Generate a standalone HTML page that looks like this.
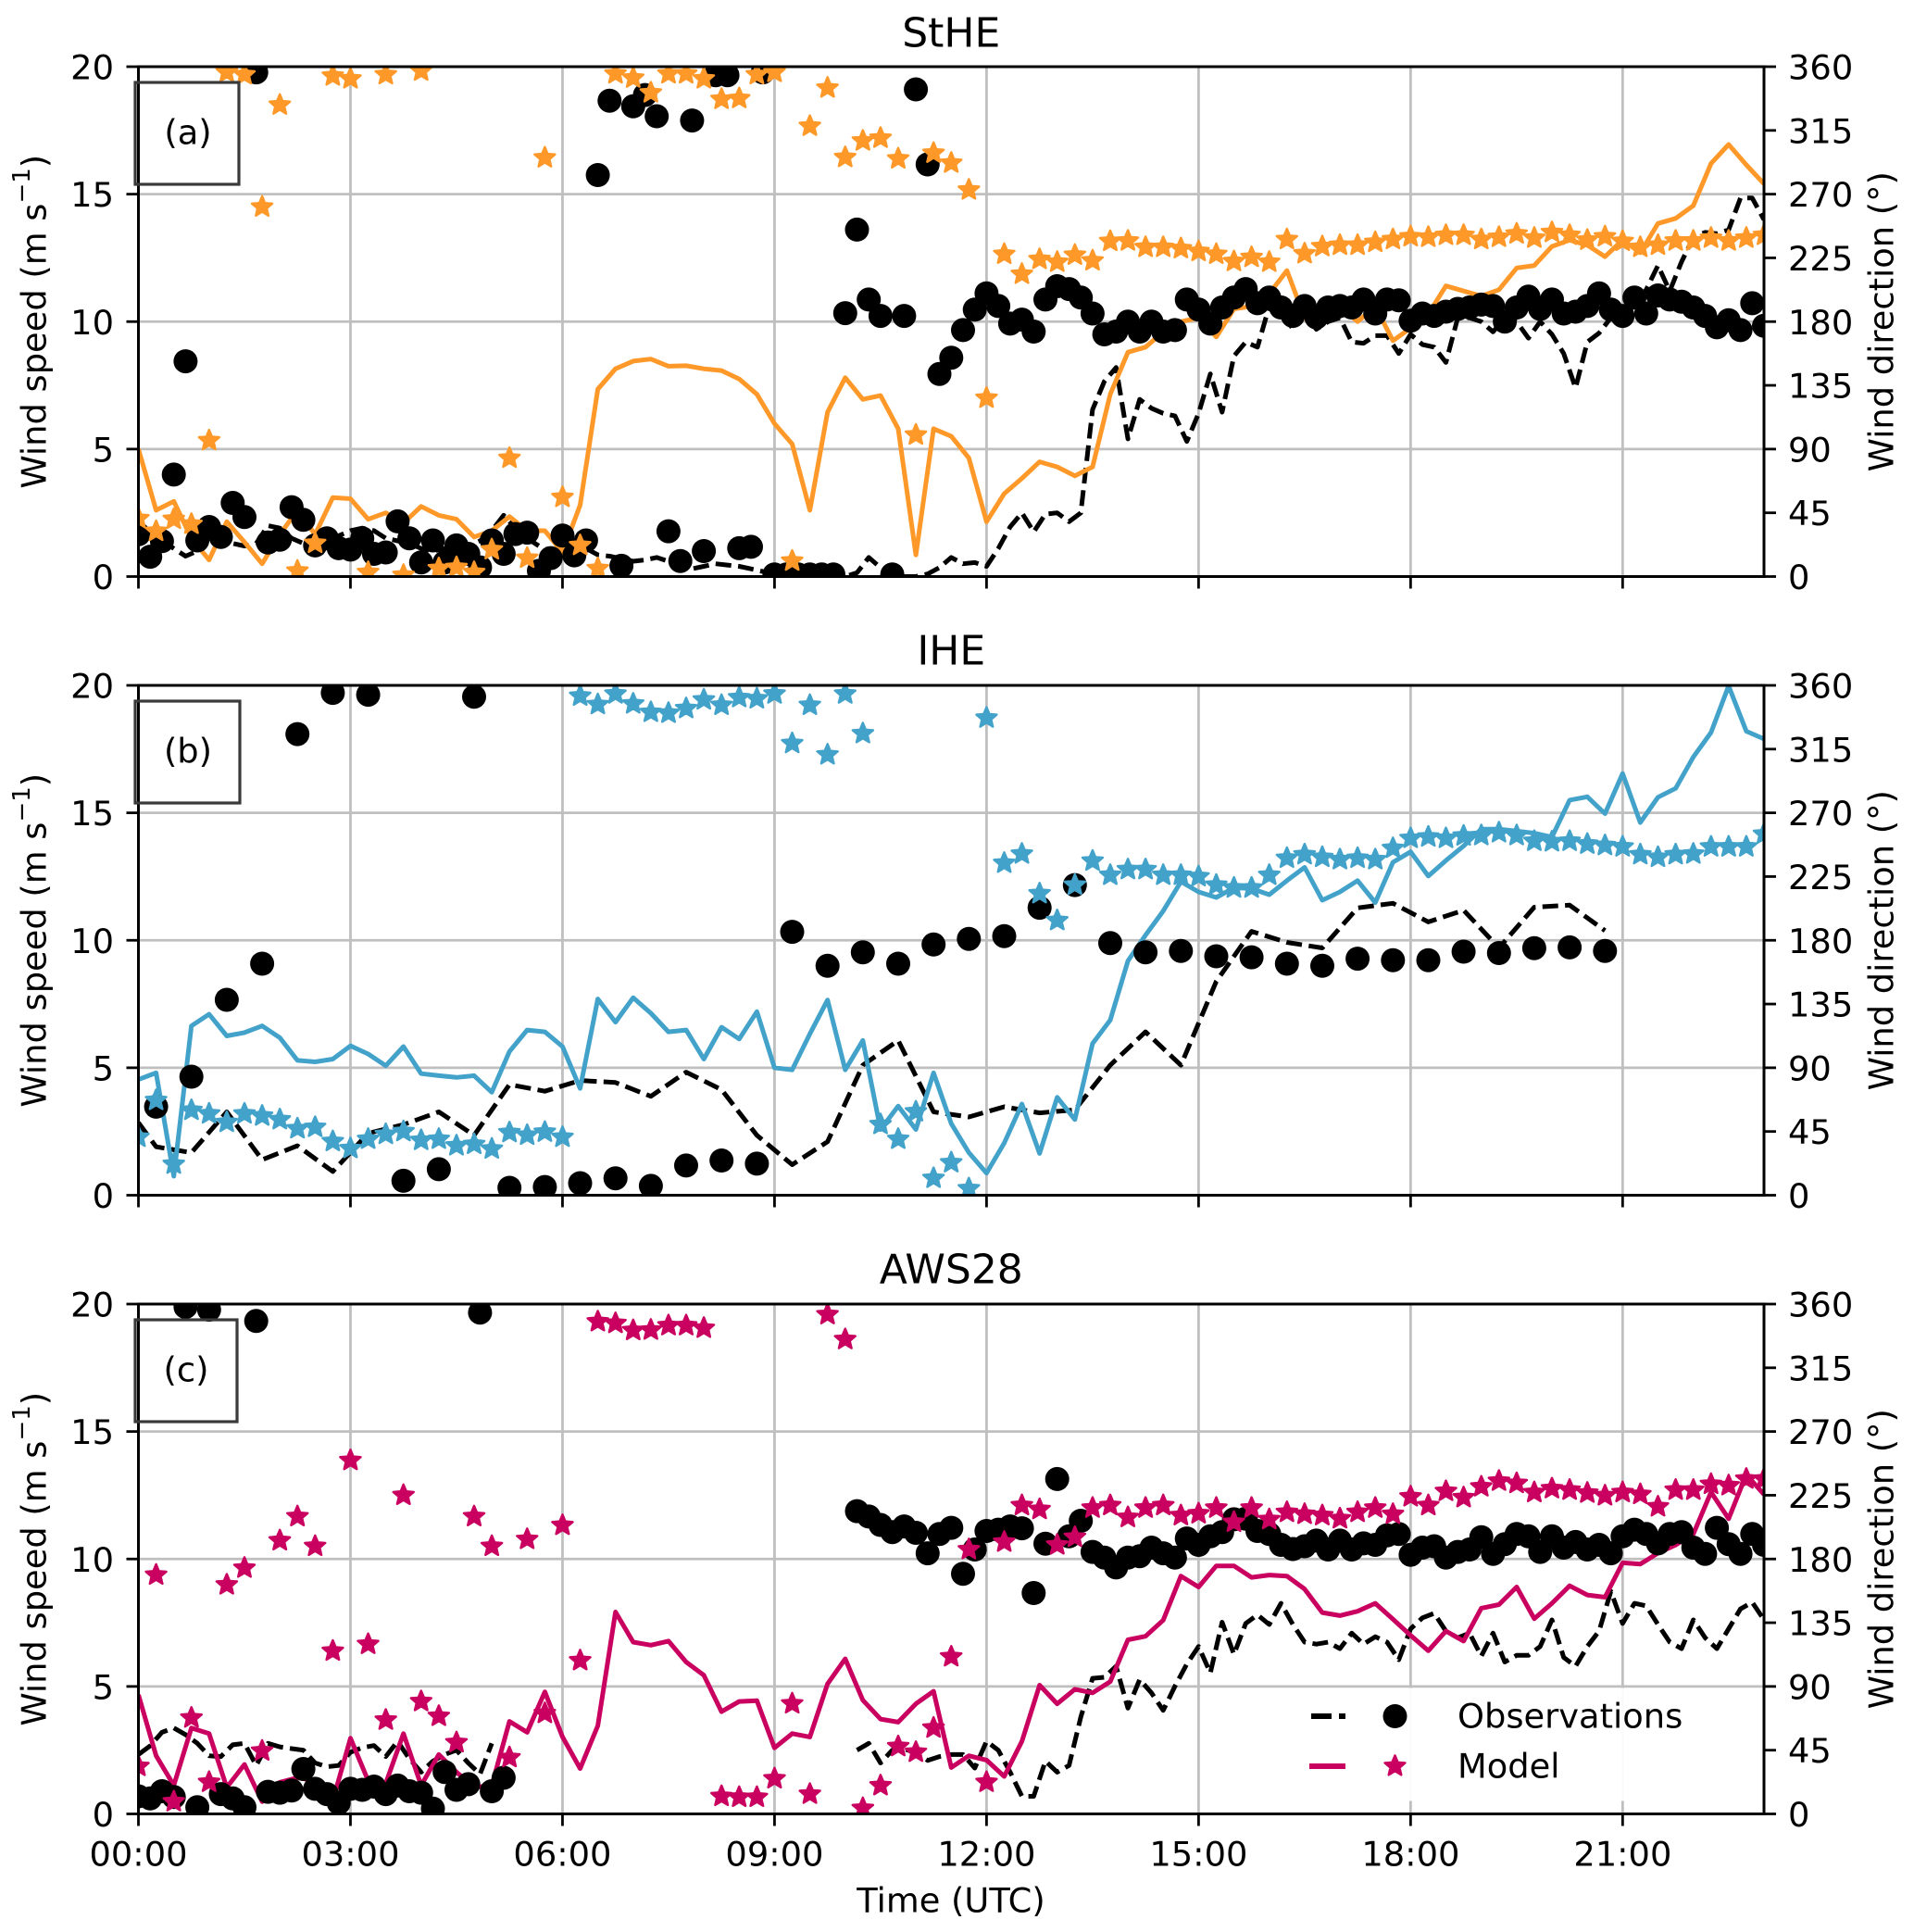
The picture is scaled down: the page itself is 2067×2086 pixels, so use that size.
<!DOCTYPE html>
<html lang="en">
<head>
<meta charset="utf-8">
<title>Wind speed and direction at StHE, IHE and AWS28</title>
<style>
html,body{margin:0;padding:0;background:#fff;}
svg{display:block;font-family:"DejaVu Sans","Liberation Sans",sans-serif;}
</style>
</head>
<body>
<svg id="chart" xmlns="http://www.w3.org/2000/svg" width="2067" height="2086" viewBox="0 0 2067 2086"></svg>
<script>
// ---- shared axis data ----
const speedTicks = [0, 5, 10, 15, 20];
const directionTicks = [0, 45, 90, 135, 180, 225, 270, 315, 360];
const timeTicks = [0, 3, 6, 9, 12, 15, 18, 21];
const timeTickLabels = ["00:00", "03:00", "06:00", "09:00", "12:00", "15:00", "18:00", "21:00"];
const timeMax = 23;
const speedMax = 20;
const directionMax = 360;
const modelStepHours = 0.25;
const obsStepHours = 1 / 6;

// ---- panel (a) StHE ----
const modelSpeedA = [
5.0,2.6,2.95,1.5,0.65,2.15,1.35,0.5,1.65,2.6,
1.65,3.1,3.05,2.25,2.5,2.1,2.75,2.4,2.25,1.55,
1.8,2.35,1.8,1.8,0.95,2.8,7.35,8.15,8.45,8.53,
8.25,8.27,8.15,8.08,7.75,7.15,6.0,5.2,2.6,6.45,
7.8,6.95,7.1,5.8,0.85,5.8,5.5,4.65,2.15,3.25,
3.85,4.5,4.3,3.95,4.3,7.15,8.8,9.0,9.6,10.0,
10.15,9.4,10.5,10.6,11.1,12.0,10.15,10.5,10.6,10.0,
10.6,9.25,9.75,10.3,11.4,11.2,11.0,11.25,12.1,12.2,
12.95,13.2,13.0,12.55,13.2,12.7,13.85,14.05,14.55,16.2,
16.95,16.15,15.4];
const modelDirA = [
41,32,40.5,37,96,356,354.4,261,333,4,
23.5,353.5,351.5,3,354.4,1,357,5.7,6.5,3,
19,83.6,13,295.7,56,22,5.7,355,352,341.6,
355,355,351.5,337,337.6,354.4,356,11,318,345,
296,307.6,309.6,295,100,299,292,273,126,227.6,
213.5,224,222,227,223,236.7,237,232.5,232.5,231.6,
229.6,227.6,222.5,225.4,222,238,228,233,234,234,
236,238,240,239.6,241,241,238,239.6,242,239,
243,241,237.6,240,236.7,232.5,234,237,237,239,
237,239,241];
const obsSpeedA = [
1.6,1.5,1.4,1.1,0.8,1.0,1.7,1.5,1.3,1.2,
1.3,2.0,1.9,1.5,1.3,1.2,1.3,1.6,1.8,1.9,
1.8,1.5,1.4,1.3,1.1,1.0,1.1,1.3,1.2,1.4,
1.8,2.4,1.9,1.5,1.2,1.0,1.1,1.4,1.1,0.85,
0.8,0.7,0.6,0.65,0.75,0.6,0.45,0.3,0.4,0.5,
0.45,0.4,0.3,0.2,0,0,0,0,0,0,
0,0.15,0.75,0.35,0,0,0,0.1,0.35,0.75,
0.5,0.55,0.4,1.1,1.95,2.5,1.75,2.45,2.5,2.15,
2.5,6.55,7.65,8.2,5.4,6.95,6.6,6.4,6.3,5.3,
6.4,7.95,6.45,8.65,9.2,9.0,10.6,10.5,9.7,10.3,
9.7,10,10.15,9.2,9.15,9.45,9.45,8.75,9.5,9.1,
9.0,8.4,10.15,10.15,10,9.6,10.15,10,9.35,10,
9.5,8.75,7.4,9.2,9.55,10.15,10.3,10.6,11.25,12.2,
11.2,12.35,13.3,13.5,13.45,13.6,14.85,14.85,14.0];
const obsDirA = [
29.8,14,25,72,152,25.5,35,28,52,42,
356,24,26,49,40,22,27,20,19,27,
16,17,39,27,10,25.5,10,22,16,6.5,
25.5,16,30,31,4,13,29,15,25.5,283.5,
336,7.6,332,340,325,32,11,322,18,354,
354,20,21,356,1.5,1.5,1.5,1.5,1.5,1.5,
186,245,195.6,184,1.5,184,344,291,143,154.5,
174,188.5,200,191,178.6,181.4,173,195.6,205,203,
197,185.7,171,173,180,173,180,173,174,195.6,
188.5,178.6,190,197,203,193,197,190,184,191,
183,190,191,190,195.6,185.7,195.6,195,180.6,185.7,
184,187,189,190,192,191,180,190,197.6,189,
195.6,185.7,187,191,200,188.5,184,197,185.7,198.5,
195.6,194,190,184,176,181,174,193,177];

// ---- panel (b) IHE ----
const modelSpeedB = [
4.54,4.8,0.75,6.64,7.1,6.25,6.38,6.64,6.18,5.29,
5.23,5.34,5.86,5.54,5.08,5.83,4.77,4.69,4.62,4.69,
4.04,5.64,6.48,6.41,5.83,4.19,7.7,6.79,7.75,7.14,
6.41,6.48,5.34,6.59,6.13,7.2,5.0,4.92,6.33,7.66,
4.92,6.07,2.58,3.5,2.58,4.8,2.81,1.67,0.87,2.05,
3.58,1.64,3.84,2.97,5.95,6.87,9.19,10.2,11.15,12.3,
11.9,11.68,12.06,12.03,11.79,12.34,12.86,11.57,11.9,12.34,
11.48,13.06,13.47,12.52,13.13,13.7,14.36,14.36,14.28,14.2,
14.05,15.5,15.63,14.97,16.54,14.62,15.61,15.96,17.19,18.15,
19.98,18.2,17.9];
const modelDirB = [
41,67,22,60,57.5,51.5,57.5,56,53.4,47,
48,38,33,39.6,43,45,38.8,39.6,35,36,
32.7,44.3,42.4,44.6,41,352.5,346.5,354,347,341,
340.4,343.7,349.8,346,351.4,350.6,354,319,346,311,
354,326,50,39.6,59,12,23,4.7,337,234.5,
241,213,194,219,236,226,230,230,226,226,
225,219,217,217,226,238,240.5,238.6,237,238,
237,245,252,253,252,253.7,254,256,254,250,
249.6,250,248,247,246,240.5,238.6,240.5,241,246,
246,246,255];
const obsTimesB = [
0,0.25,0.75,1.25,1.75,2.25,2.75,3.25,3.75,4.25,
4.75,5.25,5.75,6.25,6.75,7.25,7.75,8.25,8.75,9.25,
9.75,10.25,10.75,11.25,11.75,12.25,12.75,13.25,13.75,14.25,
14.75,15.25,15.75,16.25,16.75,17.25,17.75,18.25,18.75,19.25,
19.75,20.25,20.75];
const obsSpeedB = [
2.85,1.9,1.67,3.27,1.39,1.94,0.93,2.43,2.77,3.27,
2.35,4.34,4.08,4.5,4.42,3.88,4.83,4.14,2.35,1.2,
2.1,5.1,6.07,3.27,3.07,3.47,3.23,3.35,5.1,6.41,
5.1,8.39,10.35,9.92,9.7,11.27,11.45,10.72,11.18,9.7,
11.3,11.38,10.38];
const obsDirB = [
null,62.5,83.7,138,163.5,325.6,354.7,353.4,10.2,18.4,
352,5.2,5.8,8.5,12,6.6,21,24.5,22.3,186,
162,171.5,163.5,177,181,183,203,219,178,171.5,
172.5,168.7,168,163.5,162,167,166,166,172,171,
174.5,175,172.5];

// ---- panel (c) AWS28 ----
const modelSpeedC = [
4.67,2.28,1.12,3.37,3.15,1.04,1.94,0.48,1.24,1.42,
1.3,0.52,2.97,1.3,1.2,3.15,1.12,2.33,1.64,1.04,
1.12,3.63,3.2,4.79,3.02,1.78,3.46,7.92,6.74,6.62,
6.78,5.96,5.44,4.01,4.41,4.44,2.59,3.15,3.02,5.1,
6.08,4.46,3.72,3.6,4.32,4.81,1.82,2.28,2.11,1.47,
2.85,5.05,4.32,4.89,4.75,5.19,6.83,6.97,7.6,9.33,
8.9,9.73,9.73,9.28,9.37,9.33,8.82,7.9,7.78,7.95,
8.26,7.64,7.0,6.4,7.17,6.78,8.07,8.21,8.9,7.66,
8.26,8.95,8.59,8.5,9.85,9.8,10.23,10.55,10.98,12.62,
11.58,13.31,12.53];
const modelDirC = [
33.6,168.7,8.7,67.8,22.4,161.8,173.6,44.5,193,210,
189,115,249.6,119.8,66.3,225,79.4,69,50.4,210,
189,39.8,193.9,71,203.8,108.3,347.6,346.4,341.4,341.7,
344.8,344.8,343,12.4,11.8,11.8,24.9,77.8,14,352.6,
335,4,20,47.6,43.6,60.7,111,186.7,22.4,192,
217.8,215,190,195.4,216,217.8,209.4,216,217.8,210.7,
212,216,206,216,207.9,213,211.6,210.7,208.5,213,
216,211.6,224,217.8,227.8,223.4,231,235,233.4,227,
229.7,228.7,226.6,224.7,227,225.6,216.9,228.7,228.7,232.8,
231.8,236.5,236.5];
const obsSpeedC = [
2.33,2.67,3.2,3.37,3.11,2.77,2.28,2.25,2.71,2.77,
1.9,2.77,2.63,2.56,2.5,2.0,1.85,1.9,2.42,2.6,
2.68,2.25,2.85,2.16,1.64,2.07,2.33,2.5,2.0,1.56,
2.77,null,null,null,null,null,null,null,null,null,
null,null,null,null,null,null,null,null,null,null,
null,null,null,null,null,null,null,null,null,null,
null,2.5,2.77,2.0,2.5,2.55,2.4,2.1,2.25,2.33,
2.33,1.8,2.85,2.5,1.64,0.69,0.69,2.07,1.64,1.9,
3.8,5.32,5.36,5.79,4.15,5.27,4.75,4.06,5.01,5.88,
6.57,5.53,7.52,6.26,7.47,7.81,7.43,8.26,7.43,6.74,
6.66,6.74,6.48,7.09,6.66,6.95,6.74,6.05,7.26,7.69,
7.87,7.17,6.91,7.09,6.19,7.09,5.96,6.22,6.22,6.57,
7.61,6.14,5.79,6.57,7.17,8.73,7.47,8.26,8.16,7.43,
6.74,6.48,7.61,6.91,6.48,7.26,8.04,8.3,7.61];
const obsDirC = [
12.4,11,16,12,358,4.7,356,14,11,4.7,
348,15.6,15,16.5,31.7,17.7,14,7.8,17.7,17,
19.3,14,20,16,15,3.7,29.6,17,21,354,
16,25.5,null,null,null,null,null,null,null,null,
null,null,null,null,null,null,null,null,null,null,
null,null,null,null,null,null,null,null,null,null,
null,213.8,210,204,199,203,198.5,184,197.6,202,
169.6,186.7,199.8,200.7,203,201.7,156,190.8,236.5,196,
207,185,181,174,181,182,188,184,181,194.5,
190,196,199,208,208.5,199.8,197.6,190,187,189,
193,186.7,193,186.7,191,190,196.7,197.6,183,188,
189,181,185,186.7,195.4,183.6,190.5,197.6,196,185,
196,188,192,186.7,190,184,196,200.7,197.6,191,
197.6,199,188,183.6,202,190.5,183.6,197.6,190];

const legendLabels = ["Observations", "Model"];

// ---- layout ----
const NS = "http://www.w3.org/2000/svg";
const svg = document.getElementById("chart");
const plotLeft = 149.5, plotRight = 1905;
const GRID = "#bfbfbf";
const LW = 5;
const DOT_R = 13;
const STAR_R = 11.6;
const FONT = 36.8;

function xScale(h) { return plotLeft + (h / timeMax) * (plotRight - plotLeft); }
function speedScale(top, bottom, v) { return bottom - (v / speedMax) * (bottom - top); }
function dirScale(top, bottom, v) { return bottom - (v / directionMax) * (bottom - top); }

function make(tag, attrs, parent) {
  const el = document.createElementNS(NS, tag);
  for (const k in attrs) el.setAttribute(k, attrs[k]);
  (parent || svg).appendChild(el);
  return el;
}
function starPoints(cx, cy, R) {
  const pts = [];
  for (let k = 0; k < 10; k++) {
    const r = k % 2 === 0 ? R : R * 0.45;
    const a = -Math.PI / 2 + k * Math.PI / 5;
    pts.push((cx + r * Math.cos(a)).toFixed(1) + "," + (cy + r * Math.sin(a)).toFixed(1));
  }
  return pts.join(" ");
}
function linePath(times, values, sx, sy) {
  let d = "", pen = false;
  for (let i = 0; i < values.length; i++) {
    if (values[i] === null) { pen = false; continue; }
    d += (pen ? "L" : "M") + sx(times[i]).toFixed(1) + " " + sy(values[i]).toFixed(1);
    pen = true;
  }
  return d;
}
function stepTimes(values, step) {
  return values.map(function (_, i) { return i * step; });
}

const panels = [
  { key: "a", title: "StHE", label: "(a)", top: 72, bottom: 622.5, color: "#fe9929",
    box: [146, 89, 112, 110], labelX: 203, labelY: 143,
    modelSpeed: modelSpeedA, modelDir: modelDirA, obsSpeed: obsSpeedA, obsDir: obsDirA,
    obsTimes: stepTimes(obsSpeedA, obsStepHours), titleY: 36 },
  { key: "b", title: "IHE", label: "(b)", top: 740, bottom: 1290.5, color: "#43a2ca",
    box: [146, 757, 113, 110], labelX: 203, labelY: 811,
    modelSpeed: modelSpeedB, modelDir: modelDirB, obsSpeed: obsSpeedB, obsDir: obsDirB,
    obsTimes: obsTimesB, titleY: 703 },
  { key: "c", title: "AWS28", label: "(c)", top: 1408, bottom: 1958.5, color: "#c9005f",
    box: [146, 1425, 110, 110], labelX: 201, labelY: 1479,
    modelSpeed: modelSpeedC, modelDir: modelDirC, obsSpeed: obsSpeedC, obsDir: obsDirC,
    obsTimes: stepTimes(obsSpeedC, obsStepHours), titleY: 1371 }
];

const defs = make("defs", {});
panels.forEach(function (p) {
  const cp = make("clipPath", { id: "clip-" + p.key }, defs);
  make("rect", { x: plotLeft, y: p.top, width: plotRight - plotLeft, height: p.bottom - p.top }, cp);
});

panels.forEach(function (p, pIndex) {
  const top = p.top, bottom = p.bottom;
  const sx = xScale;
  const sy = function (v) { return speedScale(top, bottom, v); };
  const sd = function (v) { return dirScale(top, bottom, v); };

  const g = make("g", {});
  
  

  // title
  const title = make("text", { x: (plotLeft + plotRight) / 2, y: p.titleY, "text-anchor": "middle", "dominant-baseline": "central", "font-size": 44, fill: "#000" }, g);
  
  
  title.textContent = p.title;

  // grid
  const grid = make("g", { stroke: GRID, "stroke-width": 2.8 }, g);
  
  
  speedTicks.forEach(function (t) {
    if (t === 0 || t === speedMax) return;
    make("line", { x1: plotLeft, x2: plotRight, y1: sy(t), y2: sy(t) }, grid);
  });
  timeTicks.forEach(function (t) {
    if (t === 0) return;
    make("line", { x1: sx(t), x2: sx(t), y1: top, y2: bottom }, grid);
  });

  const plot = make("g", { "clip-path": "url(#clip-" + p.key + ")" }, g);
  
  

  // observed speed, dashed
  const obsLine = make("path", { d: linePath(p.obsTimes, p.obsSpeed, sx, sy), fill: "none", stroke: "#000", "stroke-width": LW, "stroke-dasharray": "17 7.4", "stroke-linejoin": "round" }, plot);
  
  

  // model speed, solid
  const modelTimes = stepTimes(p.modelSpeed, modelStepHours);
  const modelLine = make("path", { d: linePath(modelTimes, p.modelSpeed, sx, sy), fill: "none", stroke: p.color, "stroke-width": LW, "stroke-linejoin": "round" }, plot);
  
  

  // observed direction, dots
  const dots = make("g", { fill: "#000" }, plot);
  
  
  p.obsDir.forEach(function (v, i) {
    if (v === null) return;
    const c = make("circle", { cx: sx(p.obsTimes[i]).toFixed(1), cy: sd(v).toFixed(1), r: DOT_R }, dots);
    
    
  });

  // model direction, stars
  const stars = make("g", { fill: p.color, stroke: p.color, "stroke-width": 2.4, "stroke-linejoin": "round" }, plot);
  
  
  p.modelDir.forEach(function (v, i) {
    if (v === null) return;
    const s = make("polygon", { points: starPoints(sx(i * modelStepHours), sd(v), STAR_R) }, stars);
    
    
  });

  // spines
  const spines = make("g", { stroke: "#000", "stroke-width": 3, fill: "none" }, g);
  
  
  make("rect", { x: plotLeft, y: top, width: plotRight - plotLeft, height: bottom - top }, spines);

  // left ticks
  const leftAxis = make("g", {}, g);
  
  
  speedTicks.forEach(function (t) {
    make("line", { x1: plotLeft - 13, x2: plotLeft, y1: sy(t), y2: sy(t), stroke: "#000", "stroke-width": 2.8 }, leftAxis);
    const tl = make("text", { x: 123, y: sy(t) + 1, "text-anchor": "end", "dominant-baseline": "central", "font-size": FONT, fill: "#000" }, leftAxis);
    
    
    tl.textContent = String(t);
  });

  // right ticks
  const rightAxis = make("g", {}, g);
  
  
  directionTicks.forEach(function (t) {
    make("line", { x1: plotRight, x2: plotRight + 13, y1: sd(t), y2: sd(t), stroke: "#000", "stroke-width": 2.8 }, rightAxis);
    const tl = make("text", { x: 1931, y: sd(t) + 1, "text-anchor": "start", "dominant-baseline": "central", "font-size": FONT, fill: "#000" }, rightAxis);
    
    
    tl.textContent = String(t);
  });

  // bottom ticks
  const bottomAxis = make("g", {}, g);
  
  
  timeTicks.forEach(function (t, i) {
    make("line", { x1: sx(t), x2: sx(t), y1: bottom, y2: bottom + 13, stroke: "#000", "stroke-width": 2.8 }, bottomAxis);
    if (pIndex === panels.length - 1) {
      const tl = make("text", { x: sx(t), y: 2002, "text-anchor": "middle", "dominant-baseline": "central", "font-size": FONT, fill: "#000" }, bottomAxis);
      
      
      tl.textContent = timeTickLabels[i];
    }
  });

  // axis titles
  const mid = (top + bottom) / 2;
  const yl = make("text", { transform: "translate(37 " + mid + ") rotate(-90)", "text-anchor": "middle", "dominant-baseline": "central", "font-size": FONT, fill: "#000" }, g);
  
  
  yl.appendChild(document.createTextNode("Wind speed (m s"));
  const sup = make("tspan", { "font-size": 26, dy: -13 }, yl);
  sup.textContent = "\u22121";
  const after = make("tspan", { dy: 13 }, yl);
  after.textContent = ")";

  const yr = make("text", { transform: "translate(2032 " + mid + ") rotate(-90)", "text-anchor": "middle", "dominant-baseline": "central", "font-size": FONT, fill: "#000" }, g);
  
  
  yr.textContent = "Wind direction (\u00b0)";

  // label box
  const box = make("rect", { x: p.box[0], y: p.box[1], width: p.box[2], height: p.box[3], fill: "none", stroke: "#3a3a3a", "stroke-width": 3.2 }, g);
  
  
  const lab = make("text", { x: p.labelX, y: p.labelY, "text-anchor": "middle", "dominant-baseline": "central", "font-size": FONT, fill: "#000" }, g);
  
  
  lab.textContent = p.label;
});

// x axis title
const xTitle = make("text", { x: 1027, y: 2052, "text-anchor": "middle", "dominant-baseline": "central", "font-size": FONT, fill: "#000" });


xTitle.textContent = "Time (UTC)";

// legend
const modelColorLegend = panels[2].color;
const legend = make("g", {});


make("rect", { x: 1405, y: 1822.5, width: 430, height: 122, fill: "#fff", opacity: 0.93 }, legend);

const legendObs = make("g", {}, legend);


make("line", { x1: 1416, x2: 1438, y1: 1853, y2: 1853, stroke: "#000", "stroke-width": 6 }, legendObs);
make("line", { x1: 1446, x2: 1453, y1: 1853, y2: 1853, stroke: "#000", "stroke-width": 6 }, legendObs);
make("circle", { cx: 1506.5, cy: 1853, r: DOT_R, fill: "#000" }, legendObs);
const legendObsText = make("text", { x: 1574, y: 1853, "dominant-baseline": "central", "font-size": FONT, fill: "#000" }, legendObs);


legendObsText.textContent = legendLabels[0];

const legendModel = make("g", {}, legend);


make("line", { x1: 1414, x2: 1453, y1: 1907, y2: 1907, stroke: modelColorLegend, "stroke-width": 6 }, legendModel);
make("polygon", { points: starPoints(1506.5, 1907, STAR_R), fill: modelColorLegend, stroke: modelColorLegend, "stroke-width": 2.4, "stroke-linejoin": "round" }, legendModel);
const legendModelText = make("text", { x: 1574, y: 1907, "dominant-baseline": "central", "font-size": FONT, fill: "#000" }, legendModel);


legendModelText.textContent = legendLabels[1];
</script>
</body>
</html>
